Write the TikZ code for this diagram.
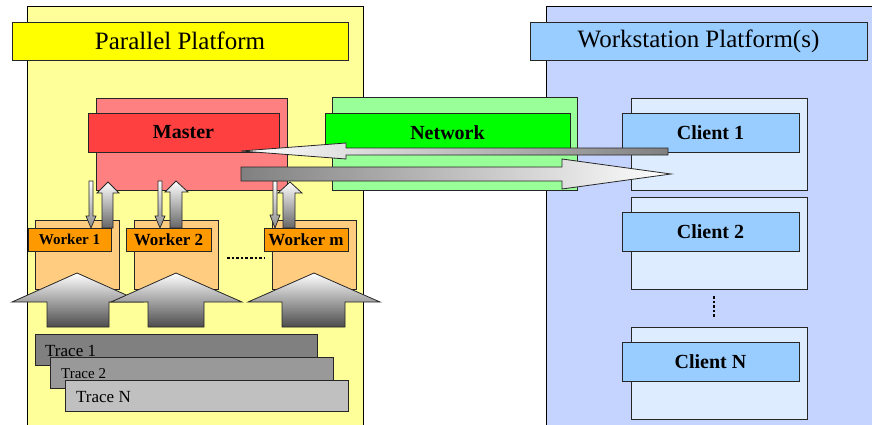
\documentclass[tikz,border=0pt]{standalone}
\usepackage{fontspec}
\setmainfont{Liberation Serif}
\definecolor{platY}{RGB}{255,255,153}
\definecolor{titleY}{RGB}{255,255,0}
\definecolor{platB}{RGB}{197,211,255}
\definecolor{titleB}{RGB}{153,204,255}
\definecolor{masterB}{RGB}{255,128,128}
\definecolor{masterF}{RGB}{255,64,64}
\definecolor{netB}{RGB}{153,255,153}
\definecolor{netF}{RGB}{0,255,0}
\definecolor{clientB}{RGB}{221,236,255}
\definecolor{clientF}{RGB}{153,204,255}
\definecolor{workerB}{RGB}{255,204,128}
\definecolor{workerF}{RGB}{255,153,0}
\definecolor{traceA}{RGB}{128,128,128}
\definecolor{traceB}{RGB}{153,153,153}
\definecolor{traceC}{RGB}{192,192,192}
\begin{document}
\begin{tikzpicture}[x=1pt,y=-1pt,
  box/.style={draw=black!85, line width=0.8pt, inner sep=0pt, outer sep=0pt},
  ttl/.style={box, font=\fontsize{25}{30}\selectfont},
  lbl/.style={box, font=\bfseries\fontsize{20}{24}\selectfont},
  wlbl/.style={box, fill=workerF, minimum height=23pt, font=\bfseries\fontsize{17}{20}\selectfont},
  wback/.style={box, fill=workerB, minimum width=84pt, minimum height=69pt},
  cback/.style={box, fill=clientB, minimum width=176pt, minimum height=92pt},
  cfront/.style={lbl, fill=clientF, minimum width=177pt, minimum height=39pt},
  trc/.style={box, minimum width=283pt, minimum height=31pt},
  trtext/.style={anchor=base west, inner sep=0pt, font=\fontsize{17}{20}\selectfont},
  bigup/.style={draw=black!85, line width=0.8pt, top color=white, bottom color=black!70},
  thick/.style={draw=black!85, line width=0.8pt, top color=white, bottom color=black!60},
  thin/.style={draw=black!85, line width=0.7pt, top color=white, bottom color=black!45},
  dots/.style={line width=2.6pt, dash pattern=on 2.6pt off 2pt}
]
\useasboundingbox (0,0) rectangle (872,425);
\clip (0,0) rectangle (872,425);

% platforms
\node[box, draw=black, fill=platY, minimum width=336pt, minimum height=434pt] (lplat) at (195,223) {};
\node[ttl, fill=titleY, minimum width=336pt, minimum height=38pt] (pptitle) at (180,41) {Parallel Platform};
\node[box, draw=black, fill=platB, minimum width=340pt, minimum height=434pt] (rplat) at (716,223) {};
\node[ttl, fill=titleB, minimum width=337pt, minimum height=38pt] (wptitle) at (698.5,41) {Workstation Platform(s)};

% master and network
\node[box, fill=masterB, minimum width=191pt, minimum height=92pt] (masterback) at (191.5,144) {};
\node[lbl, fill=masterF, minimum width=191pt, minimum height=39pt] (master) at (183.5,132.5) {Master};
\node[box, fill=netB, minimum width=245pt, minimum height=93pt] (netback) at (454.5,143.5) {};
\node[lbl, fill=netF, minimum width=245pt, minimum height=39pt] (network) at (447.5,132.5) {Network};

% clients
\node[cback] (c1back) at (719,144) {};
\node[cfront] (client1) at (710.5,132.5) {Client 1};
\node[cback] (c2back) at (719,243) {};
\node[cfront] (client2) at (710.5,231.5) {Client 2};
\node[cback] (cNback) at (719,373) {};
\node[cfront] (clientN) at (710.5,361.5) {Client N};
\draw[dots] (client2.south -| 714,0) ++(0,45) coordinate (cd1) -- ++(0,21) coordinate (cd2);

% workers
\node[wback] (w1back) at (77,254.5) {};
\node[wback] (w2back) at (176,254.5) {};
\node[wback] (wmback) at (314,254.5) {};

% master <-> worker arrows
\path[thin] (89,181) -- (93,181) -- (93,216) -- (96,216) -- (91,228) -- (86,216) -- (89,216) -- cycle;
\path[thick] (102,228) -- (102,193) -- (97,193) -- (108,182) -- (119,193) -- (113,193) -- (113,228) -- cycle;
\path[thin] (158,181) -- (162,181) -- (162,216) -- (165,216) -- (160,228) -- (155,216) -- (158,216) -- cycle;
\path[thick] (170,228) -- (170,192) -- (165,192) -- (176,181) -- (188,192) -- (182,192) -- (182,228) -- cycle;
\path[thin] (273,181) -- (277,181) -- (277,215) -- (280,215) -- (275,228) -- (270,215) -- (273,215) -- cycle;
\path[thick] (283,228) -- (283,193) -- (278,193) -- (290,182) -- (302,193) -- (295,193) -- (295,228) -- cycle;

\node[wlbl, minimum width=83pt, font=\bfseries\fontsize{15}{18}\selectfont] (worker1) at (69.5,239.5) {Worker 1};
\node[wlbl, minimum width=85pt] (worker2) at (168.5,239.5) {Worker 2};
\node[wlbl, minimum width=84pt] (workerm) at (306,239.5) {Worker m};
\draw[dots] (227,258) coordinate (wd1) -- (264,258) coordinate (wd2);

% trace -> worker block arrows
\path[bigup] (47,327) -- (47,302) -- (12,302) -- (77,273) -- (142,302) -- (109,302) -- (109,327) -- cycle;
\path[bigup] (148,327) -- (148,302) -- (111,302) -- (176,273) -- (242,302) -- (204,302) -- (204,327) -- cycle;
\path[bigup] (282,327) -- (282,302) -- (248,302) -- (314,273) -- (380,302) -- (345,302) -- (345,327) -- cycle;

% traces
\node[trc, fill=traceA, minimum width=282pt] (trace1) at (176,349.5) {};
\node[trtext] (t1) at (45,356) {Trace 1};
\node[trc, fill=traceB] (trace2) at (191.5,372.5) {};
\node[trtext, font=\fontsize{15}{18}\selectfont] (t2) at (61,378) {Trace 2};
\node[trc, fill=traceC] (traceN) at (206.5,395.5) {};
\node[trtext] (tN) at (76,402) {Trace N};

% master <-> client arrows
\path[draw=black!85, line width=0.8pt, left color=white, right color=traceA]
  (241,151) -- (346,143) -- (346,148) -- (668,148) -- (668,155) -- (346,155) -- (346,159) -- cycle;
\path[draw=black!85, line width=0.8pt, left color=traceA, right color=white]
  (241,167) -- (562,167) -- (562,159) -- (671,174) -- (562,189) -- (562,181) -- (241,181) -- cycle;
\end{tikzpicture}
\end{document}
